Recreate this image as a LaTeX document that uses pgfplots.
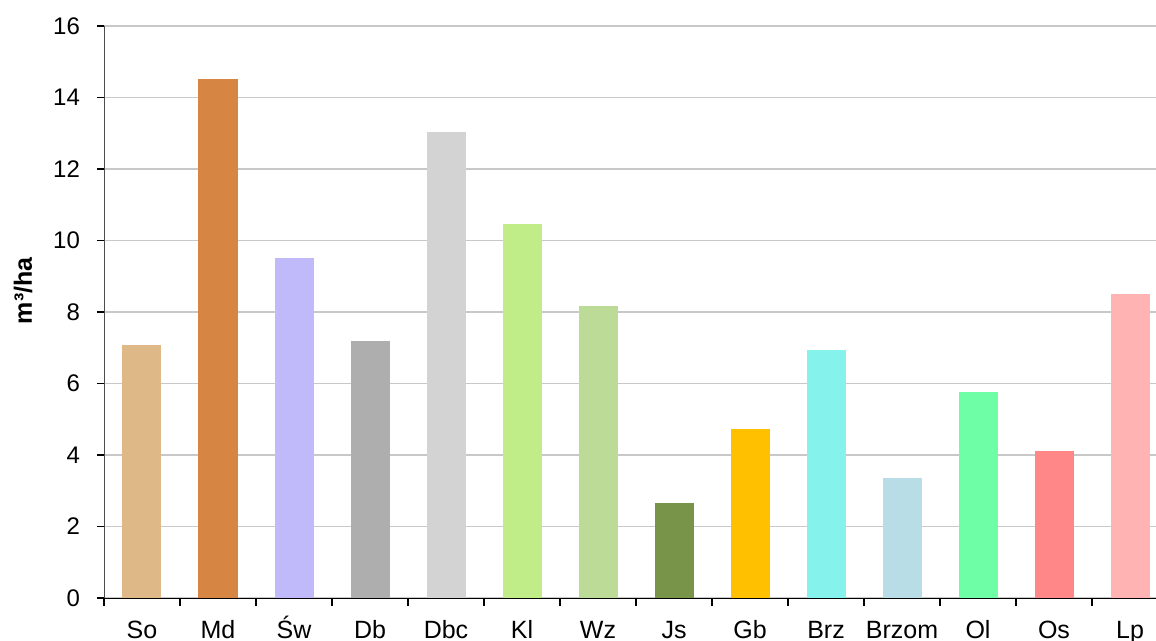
\documentclass[border=0pt]{standalone}
\usepackage{fontspec}
\setmainfont{Liberation Sans}
\usepackage{pgfplots}
\pgfplotsset{compat=1.18}

\definecolor{cSo}{HTML}{DFB887}
\definecolor{cMd}{HTML}{D68642}
\definecolor{cSw}{HTML}{C0BAFA}
\definecolor{cDb}{HTML}{AEAEAE}
\definecolor{cDbc}{HTML}{D3D3D3}
\definecolor{cKl}{HTML}{C0ED87}
\definecolor{cWz}{HTML}{BCDB97}
\definecolor{cJs}{HTML}{789449}
\definecolor{cGb}{HTML}{FFC000}
\definecolor{cBrz}{HTML}{86F2EC}
\definecolor{cBrzom}{HTML}{B8DDE7}
\definecolor{cOl}{HTML}{6EFFA6}
\definecolor{cOs}{HTML}{FF8787}
\definecolor{cLp}{HTML}{FFB3B3}
\definecolor{gridgray}{HTML}{C8C8C8}

\begin{document}
\begin{tikzpicture}
\begin{axis}[
    at={(0,0)}, anchor=south west,
    scale only axis,
    width=532pt, height=286pt,
    ybar, bar width=19.5pt,
    xmin=-0.5, xmax=13.5,
    ymin=0, ymax=16,
    ytick={0,2,...,16},
    xtick={0,...,13},
    xticklabels={So,Md,Św,Db,Dbc,Kl,Wz,Js,Gb,Brz,Brzom,Ol,Os,Lp},
    minor xtick={-0.5,0.5,...,13.5},
    axis x line*=bottom, axis y line*=left,
    axis line style={-, draw=black!70},
    x axis line style={draw=black},
    ymajorgrids, grid style={gridgray, line width=0.6pt},
    major x tick style={draw=none},
    minor x tick style={draw=black, line width=0.8pt},
    minor tick length=4pt,
    y tick style={draw=black, line width=0.6pt},
    major tick length=3.5pt,
    tick align=outside,
    /pgf/number format/assume math mode=true,
    yticklabel style={font=\fontsize{12}{14}\selectfont, xshift=-5pt},
    xticklabel style={font=\fontsize{12.5}{14}\selectfont, anchor=north, text height=9pt, text depth=2.5pt, yshift=-4pt},
    ylabel={\bfseries m³/ha},
    ylabel style={font=\fontsize{12.5}{14}\selectfont, at={(axis description cs:-0.076,0.537)}, anchor=center},
  ]
  \addplot[fill=cSo, draw=none, bar shift=0pt] coordinates {(0,7.09)};
  \addplot[fill=cMd, draw=none, bar shift=0pt] coordinates {(1,14.52)};
  \addplot[fill=cSw, draw=none, bar shift=0pt] coordinates {(2,9.52)};
  \addplot[fill=cDb, draw=none, bar shift=0pt] coordinates {(3,7.2)};
  \addplot[fill=cDbc, draw=none, bar shift=0pt] coordinates {(4,13.04)};
  \addplot[fill=cKl, draw=none, bar shift=0pt] coordinates {(5,10.45)};
  \addplot[fill=cWz, draw=none, bar shift=0pt] coordinates {(6,8.16)};
  \addplot[fill=cJs, draw=none, bar shift=0pt] coordinates {(7,2.65)};
  \addplot[fill=cGb, draw=none, bar shift=0pt] coordinates {(8,4.72)};
  \addplot[fill=cBrz, draw=none, bar shift=0pt] coordinates {(9,6.93)};
  \addplot[fill=cBrzom, draw=none, bar shift=0pt] coordinates {(10,3.35)};
  \addplot[fill=cOl, draw=none, bar shift=0pt] coordinates {(11,5.75)};
  \addplot[fill=cOs, draw=none, bar shift=0pt] coordinates {(12,4.1)};
  \addplot[fill=cLp, draw=none, bar shift=0pt] coordinates {(13,8.49)};
\end{axis}
\pgfresetboundingbox
\path[use as bounding box] (-52pt,-21.5pt) rectangle (526pt,299pt);
\end{tikzpicture}
\end{document}
